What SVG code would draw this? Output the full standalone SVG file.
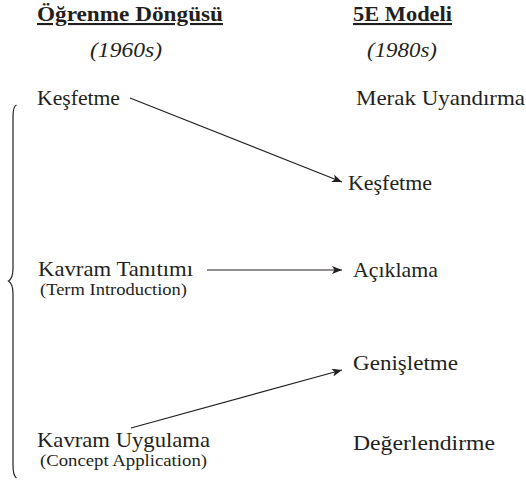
<svg xmlns="http://www.w3.org/2000/svg" width="526" height="480" viewBox="0 0 526 480">
<style>
text{font-family:'Liberation Serif','DejaVu Serif',serif;fill:#231f20}
.t{font-size:21px;font-weight:bold;text-decoration:underline}
.y{font-size:21px;font-style:italic}
.n{font-size:21.5px}
.s{font-size:16.5px}
.c{stroke:#231f20;stroke-width:1.2;fill:none}
</style>
<defs>
<marker id="ah" viewBox="0 0 10 8" refX="10" refY="4" markerWidth="10" markerHeight="8" markerUnits="userSpaceOnUse" orient="auto">
<path d="M0,0 L10,4 L0,8 L2.5,4 Z" fill="#231f20"/>
</marker>
</defs>
<rect width="526" height="480" fill="#fff"/>
<g font-family="Liberation Serif, DejaVu Serif, serif">
<g id="header-left"><text class="t" x="37" y="21" textLength="186" lengthAdjust="spacingAndGlyphs">Öğrenme Döngüsü</text><text class="y" x="90" y="57" textLength="72" lengthAdjust="spacingAndGlyphs">(1960s)</text></g>
<g id="header-right"><text class="t" x="353" y="21" textLength="99" lengthAdjust="spacingAndGlyphs">5E Modeli</text><text class="y" x="367" y="57" textLength="70" lengthAdjust="spacingAndGlyphs">(1980s)</text></g>
<g id="node-l1"><text class="n" x="37" y="105" textLength="83" lengthAdjust="spacingAndGlyphs">Keşfetme</text></g>
<g id="node-l2"><text class="n" x="38" y="276" textLength="155" lengthAdjust="spacingAndGlyphs">Kavram Tanıtımı</text><text class="s" x="40" y="295" textLength="147" lengthAdjust="spacingAndGlyphs">(Term Introduction)</text></g>
<g id="node-l3"><text class="n" x="37" y="447" textLength="173" lengthAdjust="spacingAndGlyphs">Kavram Uygulama</text><text class="s" x="40" y="466" textLength="167" lengthAdjust="spacingAndGlyphs">(Concept Application)</text></g>
<g id="node-r1"><text class="n" x="356" y="105" textLength="169" lengthAdjust="spacingAndGlyphs">Merak Uyandırma</text></g>
<g id="node-r2"><text class="n" x="348" y="190" textLength="84" lengthAdjust="spacingAndGlyphs">Keşfetme</text></g>
<g id="node-r3"><text class="n" x="353" y="277" textLength="85" lengthAdjust="spacingAndGlyphs">Açıklama</text></g>
<g id="node-r4"><text class="n" x="353" y="370" textLength="105" lengthAdjust="spacingAndGlyphs">Genişletme</text></g>
<g id="node-r5"><text class="n" x="353" y="450" textLength="142" lengthAdjust="spacingAndGlyphs">Değerlendirme</text></g>
</g>
<g id="brace"><path class="c" stroke-width="1.6" d="M16.5,105 C13.5,106 13,110 13,117 L13,268 C13,275 12,279 8.5,281 C12,283 13,287 13,294 L13,465 C13,472 13.5,476 16.5,478"/></g>
<g id="connectors">
<line class="c" x1="130" y1="98" x2="342" y2="182" marker-end="url(#ah)"/>
<line class="c" x1="207" y1="270" x2="342" y2="270" marker-end="url(#ah)"/>
<line class="c" x1="131" y1="428" x2="342" y2="370" marker-end="url(#ah)"/>
</g>
</svg>
